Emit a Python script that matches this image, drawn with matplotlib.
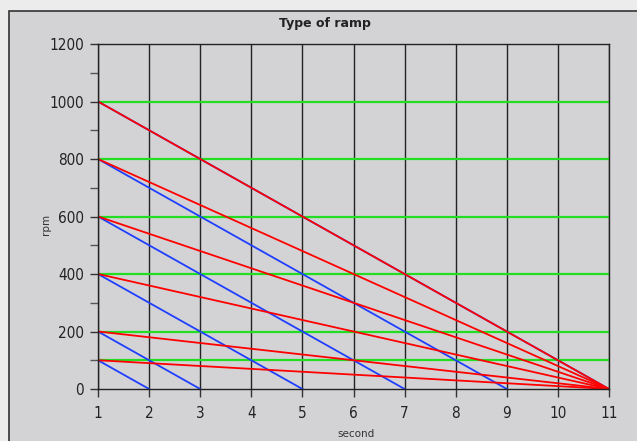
import matplotlib
matplotlib.use("Agg")
import matplotlib.pyplot as plt
from matplotlib.patches import Rectangle

# ramp start speeds (rpm) at t = 1 s
start_rpm = [100, 200, 400, 600, 800, 1000]
# red ramps: every start speed reaches 0 at t = 11 s
red_end_s = [11, 11, 11, 11, 11, 11]
# blue ramps: constant slope of 100 rpm/s
blue_end_s = [2, 3, 5, 7, 9, 11]
t0 = 1

x_ticks = [1, 2, 3, 4, 5, 6, 7, 8, 9, 10, 11]
y_ticks = [0, 200, 400, 600, 800, 1000, 1200]
y_minor = [100, 300, 500, 700, 900, 1100]
green_levels = [100, 200, 400, 600, 800, 1000]

BG = "#d3d3d5"
RED = "#ff0000"
BLUE = "#1f3fff"
GREEN = "#22dd22"

fig = plt.figure(figsize=(6.37, 4.41), dpi=100)
fig.patch.set_facecolor("#ececec")
fig.patches.append(Rectangle((8.5 / 637, -0.1), 1.2, 1 - 10.5 / 441 + 0.1,
                             transform=fig.transFigure, facecolor=BG,
                             edgecolor="#333333", linewidth=1.2, zorder=-10))

ax = fig.add_axes([98 / 637, 1 - 389 / 441, (609 - 98) / 637, (389 - 44) / 441])
ax.set_facecolor(BG)

for x in x_ticks:
    ax.axvline(x, color="#222222", linewidth=1.0, zorder=1)
for y in green_levels:
    ax.axhline(y, color=GREEN, linewidth=1.6, zorder=2)

for y0, x1 in zip(start_rpm, blue_end_s):
    ax.plot([t0, x1], [y0, 0], color=BLUE, linewidth=1.3, zorder=3)
for y0, x1 in zip(start_rpm, red_end_s):
    ax.plot([t0, x1], [y0, 0], color=RED, linewidth=1.3, zorder=4)

ax.set_xlim(1, 11)
ax.set_ylim(0, 1200)
ax.set_xticks(x_ticks)
ax.set_yticks(y_ticks)
ax.set_yticks(y_minor, minor=True)
ax.tick_params(axis="both", which="major", length=6, width=1.0, color="#333333",
               labelcolor="#222222", pad=4)
ax.tick_params(axis="y", which="minor", length=6, width=1.0, color="#555555")
ax.tick_params(axis="x", pad=6)
for lab in ax.get_xticklabels() + ax.get_yticklabels():
    lab.set_fontsize(11)
    lab.set_fontstretch("condensed")
for s in ax.spines.values():
    s.set_color("#222222")
    s.set_linewidth(1.0)
    s.set_zorder(5)

fig.text(325 / 637, 1 - 24 / 441, "Type of ramp", ha="center", va="center",
         fontsize=9, fontweight="bold", color="#222222")
fig.text(356 / 637, 1 - 434 / 441, "second", ha="center", va="center",
         fontsize=7.5, color="#333333")
fig.text(46 / 637, 1 - 224 / 441, "rpm", ha="center", va="center",
         fontsize=7.5, color="#333333", rotation=90)

fig.savefig("out.png", dpi=100)
